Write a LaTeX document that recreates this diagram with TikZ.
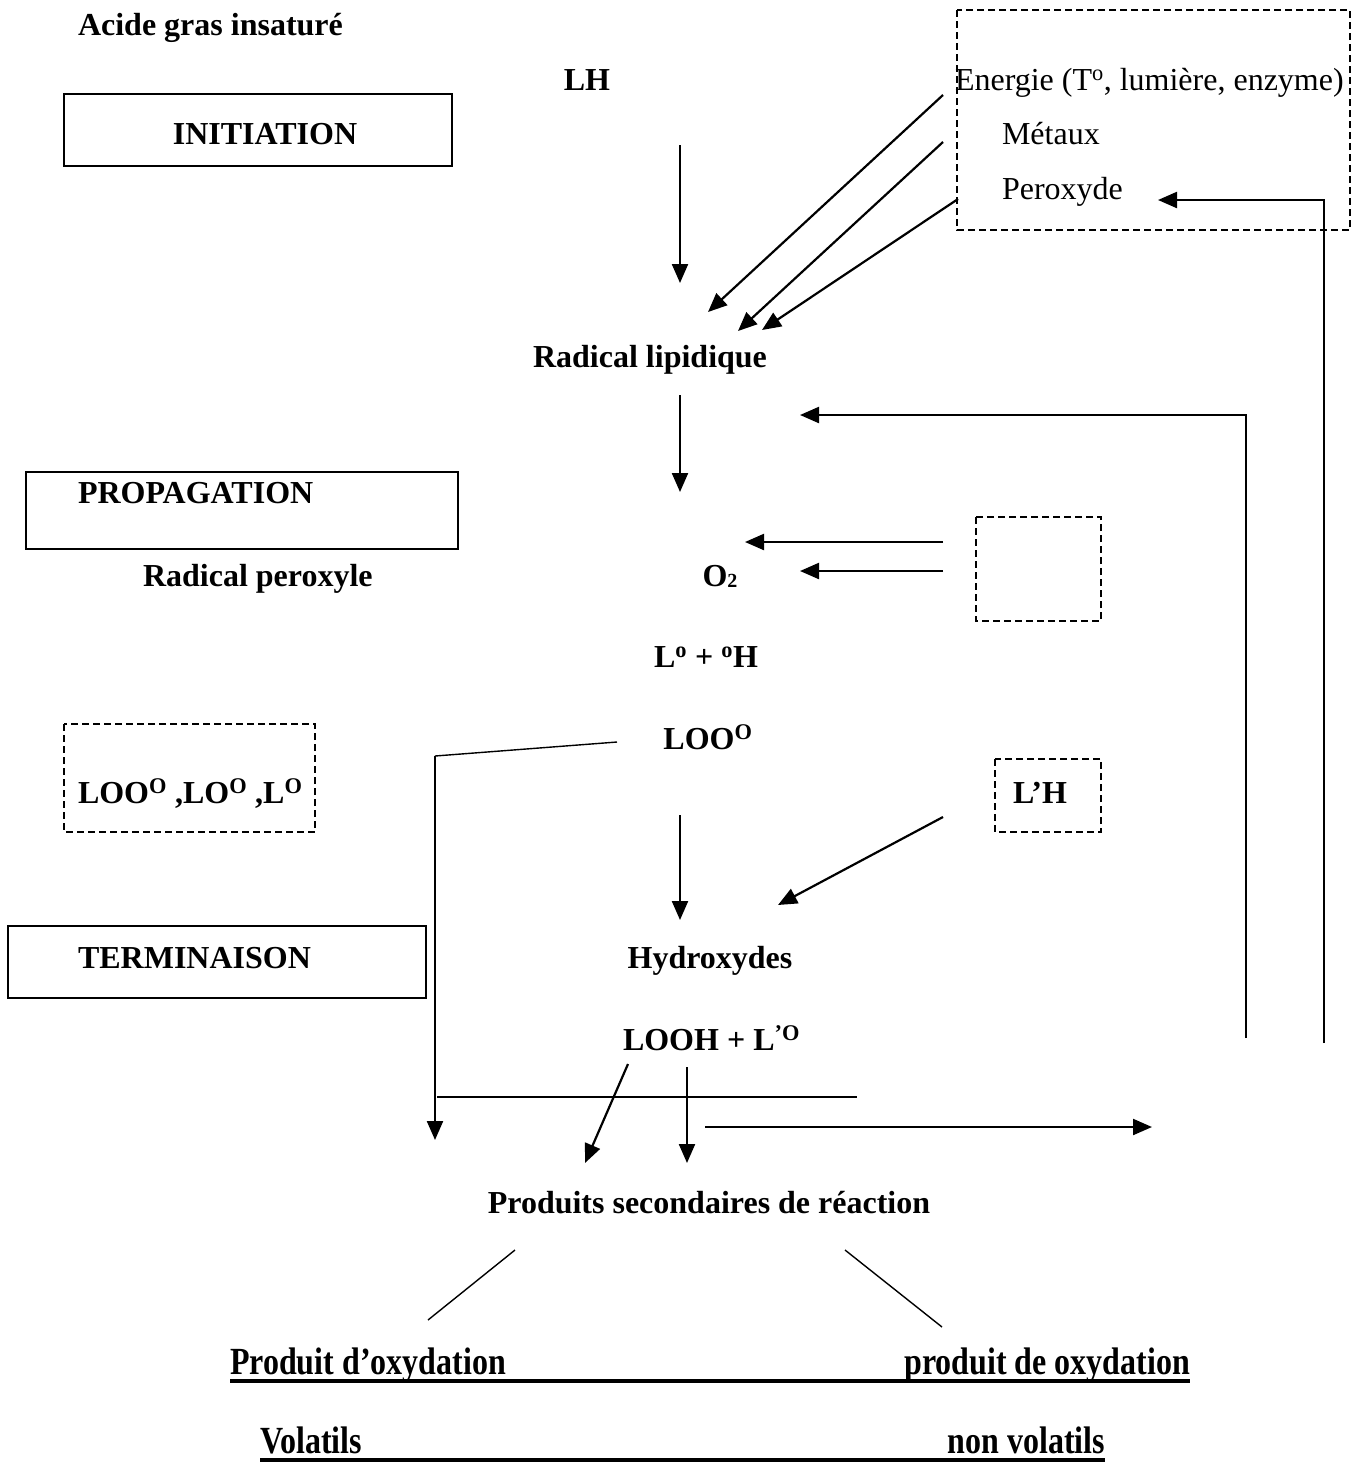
\documentclass[tikz,border=0pt]{standalone}
\usepackage{fontspec}
\setmainfont{Liberation Serif}
\usetikzlibrary{arrows.meta}
\begin{document}
\begin{tikzpicture}[x=1pt,y=-1pt,
  every node/.style={inner sep=0pt,outer sep=0pt},
  lbl/.style={font=\fontsize{32}{37}\selectfont\bfseries, anchor=base west},
  rlbl/.style={font=\fontsize{32}{37}\selectfont, anchor=base west},
  clbl/.style={font=\fontsize{32}{37}\selectfont\bfseries, anchor=base},
  ulbl/.style={font=\fontsize{32}{37}\selectfont\bfseries, anchor=base west, yscale=1.2},
  arr/.style={line width=2.2pt,-{Triangle[length=19pt,width=16pt]}},
  thin/.style={line width=1.4pt},
  solidbox/.style={draw,line width=1.6pt},
  dashbox/.style={draw,line width=1.7pt,dash pattern=on 7pt off 4pt},
  uline/.style={line width=3.2pt}]
\useasboundingbox (0,0) rectangle (1357,1468);

% boxes
\draw[solidbox] (64,94) rectangle (452,166);
\draw[solidbox] (26,472) rectangle (458,549);
\draw[solidbox] (8,926) rectangle (426,998);
\draw[dashbox] (957,10) rectangle (1350,230);
\draw[dashbox] (976,517) rectangle (1101,621);
\draw[dashbox] (64,724) rectangle (315,832);
\draw[dashbox] (995,759) rectangle (1101,832);

% labels
\node[lbl] (acide) at (78,35) {Acide gras insaturé};
\node[clbl] (lh) at (587,90) {LH};
\node[clbl] (init) at (265,144) {INITIATION};
\node[rlbl] (energie) at (955,90) {Energie (T\textsuperscript{o}, lumière, enzyme)};
\node[rlbl] (metaux) at (1002,144) {Métaux};
\node[rlbl] (perox) at (1002,199) {Peroxyde};
\node[clbl] (radlip) at (650,367) {Radical lipidique};
\node[lbl] (prop) at (78,503) {PROPAGATION};
\node[lbl] (radper) at (143,586) {Radical peroxyle};
\node[clbl] (o2) at (720,586) {O\raisebox{-1pt}{\fontsize{20}{20}\selectfont 2}};
\node[clbl] (lh2) at (706,667) {L\textsuperscript{o} + \textsuperscript{o}H};
\node[clbl] (loo) at (708,749) {LOO\textsuperscript{O}};
\node[lbl] (loolist) at (78,803) {LOO\textsuperscript{O} ,LO\textsuperscript{O} ,L\textsuperscript{O}};
\node[lbl] (lph) at (1013,803) {L’H};
\node[lbl] (term) at (78,968) {TERMINAISON};
\node[clbl] (hydrox) at (710,968) {Hydroxydes};
\node[lbl] (looh) at (623,1050) {LOOH + L\textsuperscript{’O}};
\node[clbl] (prodsec) at (709,1213) {Produits secondaires de réaction};
\node[ulbl] (pox1) at (230,1374) {Produit d’oxydation};
\node[ulbl, anchor=base east] (pox2) at (1190,1374) {produit de oxydation};
\node[ulbl] (vol) at (260,1453) {Volatils};
\node[ulbl, anchor=base east] (nvol) at (1105,1453) {non volatils};

% coordinates
\coordinate (a1s) at (680,145); \coordinate (a1e) at (680,283);
\coordinate (e1s) at (943,95);  \coordinate (e1e) at (708,312);
\coordinate (e2s) at (943,142); \coordinate (e2e) at (738,331);
\coordinate (e3s) at (958,199); \coordinate (e3e) at (762,330);
\coordinate (a2s) at (680,395); \coordinate (a2e) at (680,492);
\coordinate (r1s) at (1246,1038); \coordinate (r1c) at (1246,415); \coordinate (r1e) at (800,415);
\coordinate (r2s) at (1324,1043); \coordinate (r2c) at (1324,200); \coordinate (r2e) at (1158,200);
\coordinate (o1s) at (943,542); \coordinate (o1e) at (745,542);
\coordinate (o2s) at (943,571); \coordinate (o2e) at (800,571);
\coordinate (l1s) at (617,742); \coordinate (l1c) at (435,756); \coordinate (l1e) at (435,1140);
\coordinate (a3s) at (680,815); \coordinate (a3e) at (680,920);
\coordinate (lhs) at (943,817); \coordinate (lhe) at (778,905);
\coordinate (hls) at (437,1097); \coordinate (hle) at (857,1097);
\coordinate (b1s) at (628,1064); \coordinate (b1e) at (585,1163);
\coordinate (b2s) at (687,1067); \coordinate (b2e) at (687,1163);
\coordinate (b3s) at (705,1127); \coordinate (b3e) at (1152,1127);
\coordinate (d1s) at (515,1250); \coordinate (d1e) at (428,1320);
\coordinate (d2s) at (845,1250); \coordinate (d2e) at (942,1327);

% connectors
\draw[arr] (a1s) -- (a1e);
\draw[arr] (e1s) -- (e1e);
\draw[arr] (e2s) -- (e2e);
\draw[arr] (e3s) -- (e3e);
\draw[arr] (a2s) -- (a2e);
\draw[arr] (r1s) -- (r1c) -- (r1e);
\draw[arr] (r2s) -- (r2c) -- (r2e);
\draw[arr] (o1s) -- (o1e);
\draw[arr] (o2s) -- (o2e);
\draw[thin] (l1s) -- (l1c);
\draw[arr] (l1c) -- (l1e);
\draw[arr] (a3s) -- (a3e);
\draw[arr] (lhs) -- (lhe);
\draw[thin] (hls) -- (hle);
\draw[arr] (b1s) -- (b1e);
\draw[arr] (b2s) -- (b2e);
\draw[arr] (b3s) -- (b3e);
\draw[thin] (d1s) -- (d1e);
\draw[thin] (d2s) -- (d2e);

% underlines
\draw[uline] (pox1.south west |- 0,1381) -- (pox2.south east |- 0,1381);
\draw[uline] (vol.south west |- 0,1460) -- (nvol.south east |- 0,1460);
\end{tikzpicture}
\end{document}
